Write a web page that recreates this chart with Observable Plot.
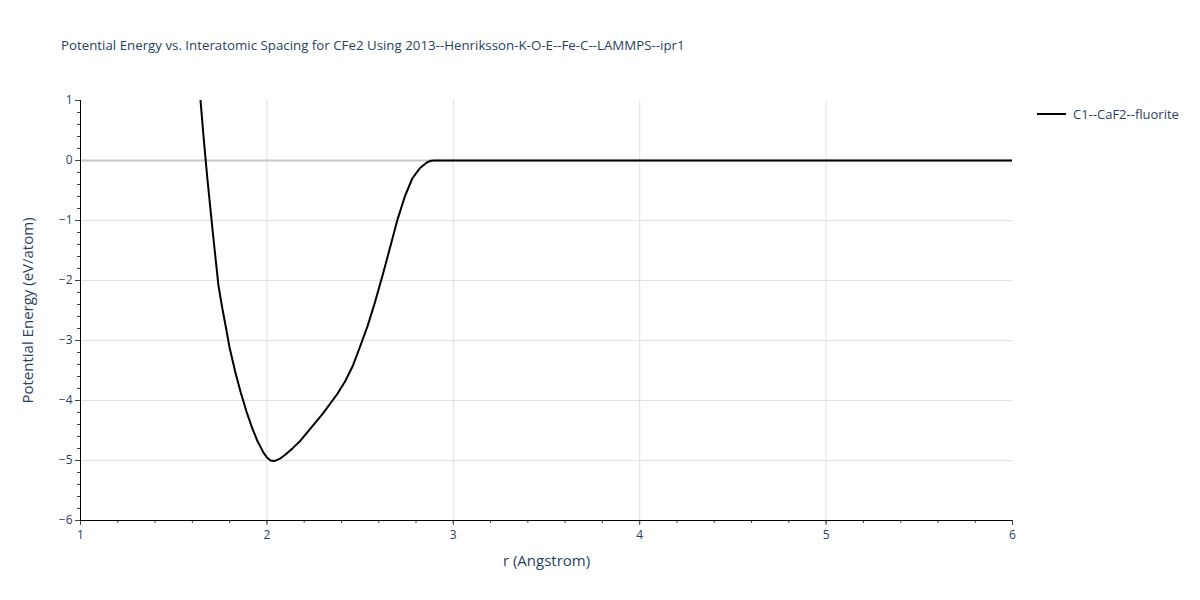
<!DOCTYPE html>
<html>
<head>
<meta charset="utf-8">
<script src="https://cdn.jsdelivr.net/npm/d3@7"></script>
<script src="https://cdn.jsdelivr.net/npm/@observablehq/plot@0.6"></script>
<style>
  body { margin: 0; background: #fff; font-family: "Open Sans", sans-serif; }
  #wrap { position: relative; width: 1200px; height: 600px; }
  #title { position: absolute; left: 61px; top: 36px; font-size: 13.3px; color: #2a3f5f; white-space: nowrap; }
  #legend { position: absolute; left: 1037px; top: 105px; font-size: 13px; color: #2a3f5f; display: flex; align-items: center; white-space: nowrap; }
  #legend .sw { width: 29px; height: 2px; background: #000; margin-right: 7px; }
</style>
</head>
<body>
<div id="wrap">
  <div id="chart"></div>
  <div id="title">Potential Energy vs. Interatomic Spacing for CFe2 Using 2013--Henriksson-K-O-E--Fe-C--LAMMPS--ipr1</div>
  <div id="legend"><div class="sw"></div><span id="legendText"></span></div>
</div>
<script>
const seriesName = "C1--CaF2--fluorite";
const rValues = [1.64, 1.66, 1.68, 1.70, 1.72, 1.74, 1.76, 1.78, 1.80, 1.83, 1.86, 1.89, 1.92, 1.95, 1.98, 2.00, 2.02, 2.04, 2.07, 2.10, 2.14, 2.18, 2.22, 2.26, 2.30, 2.34, 2.38, 2.42, 2.46, 2.50, 2.54, 2.58, 2.62, 2.66, 2.70, 2.74, 2.78, 2.82, 2.86, 2.88, 2.90, 3.0, 3.5, 4.0, 4.5, 5.0, 5.5, 6.0];
const energyValues = [1.15, 0.40, -0.28, -0.90, -1.50, -2.08, -2.45, -2.78, -3.12, -3.52, -3.87, -4.18, -4.45, -4.68, -4.86, -4.95, -5.00, -5.01, -4.97, -4.90, -4.79, -4.67, -4.52, -4.37, -4.22, -4.05, -3.88, -3.68, -3.43, -3.10, -2.76, -2.36, -1.92, -1.46, -0.99, -0.60, -0.30, -0.13, -0.03, -0.005, 0, 0, 0, 0, 0, 0, 0, 0];
const xTicks = [1, 2, 3, 4, 5, 6];
const yTicks = [-6, -5, -4, -3, -2, -1, 0, 1];
const xLabel = "r (Angstrom)";
const yLabel = "Potential Energy (eV/atom)";

document.getElementById("legendText").textContent = seriesName;

const data = rValues.map((r, i) => ({r, e: energyValues[i]}));
const xMinor = d3.range(1, 6.0001, 0.2).map(v => +v.toFixed(2));
const yMinor = d3.range(-6, 1.0001, 0.2).map(v => +v.toFixed(2));
const fmt = d3.format("d");

const chart = Plot.plot({
  width: 1200,
  height: 600,
  marginLeft: 80,
  marginRight: 188,
  marginTop: 100,
  marginBottom: 80,
  style: {fontFamily: "'Open Sans', sans-serif", fontSize: "12px", color: "#2a3f5f", background: "transparent"},
  x: {domain: [1, 6]},
  y: {domain: [-6, 1]},
  marks: [
    Plot.ruleX(xTicks.filter(t => t > 1 && t < 6), {stroke: "#e0e0e0", strokeWidth: 1}),
    Plot.ruleY(yTicks.filter(t => t > -6 && t < 0), {stroke: "#e0e0e0", strokeWidth: 1}),
    Plot.ruleY([0], {stroke: "#c8c8c8", strokeWidth: 2}),
    Plot.line(data, {x: "r", y: "e", stroke: "#000", strokeWidth: 2, clip: true, curve: "linear"}),
    Plot.axisX(xMinor, {tickSize: 3, text: null, stroke: "#444", label: null}),
    Plot.axisY(yMinor, {tickSize: 3, text: null, stroke: "#444", label: null}),
    Plot.axisX(xTicks, {tickSize: 5, tickPadding: 5, stroke: "#444", fontSize: 12, tickFormat: fmt, label: xLabel, labelAnchor: "center", labelArrow: "none", labelOffset: 45}),
    Plot.axisY(yTicks, {tickSize: 5, tickPadding: 3, stroke: "#444", fontSize: 12, tickFormat: fmt, label: yLabel, labelAnchor: "center", labelArrow: "none", labelOffset: 58}),
    Plot.ruleX([1], {stroke: "#000", strokeWidth: 1}),
    Plot.ruleY([-6], {stroke: "#000", strokeWidth: 1})
  ]
});
d3.select(chart).selectAll("[aria-label='x-axis label'] text, [aria-label='y-axis label'] text").style("font-size", "15px");
document.getElementById("chart").appendChild(chart);
</script>
</body>
</html>
